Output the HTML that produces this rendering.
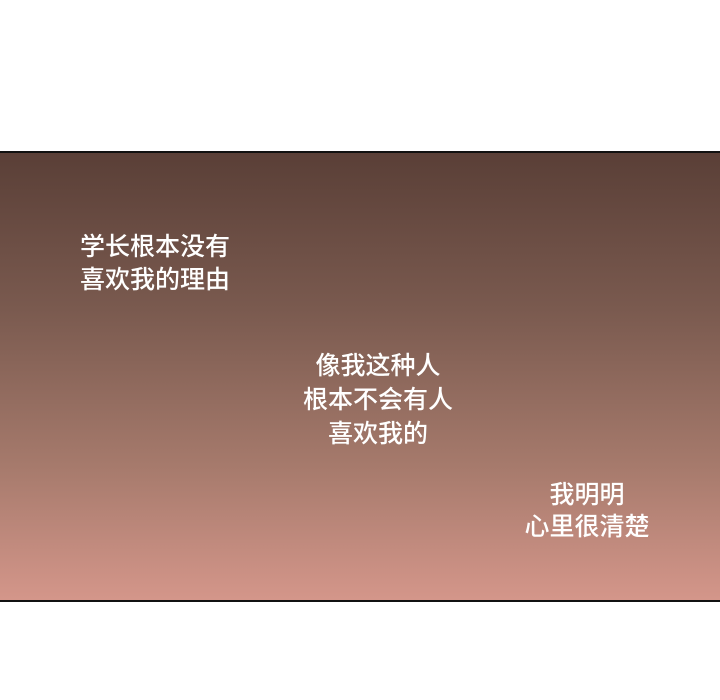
<!DOCTYPE html>
<html><head><meta charset="utf-8"><style>
html,body{margin:0;padding:0;}
body{width:720px;height:700px;background:#fff;position:relative;overflow:hidden;font-family:"Liberation Sans","Noto Sans CJK SC",sans-serif;}
#panel{position:absolute;left:0;top:151px;width:720px;height:447px;border-top:2px solid #111;border-bottom:2px solid #111;background:linear-gradient(to bottom,#5a3f37 0%,#7a5a4f 35%,#a67a6c 70%,#d4968a 100%);}
.cap{position:absolute;color:#fff;font-size:25px;font-weight:500;line-height:33px;text-align:center;white-space:nowrap;transform:translateX(-50%);}
</style></head><body>
<div id="panel">
<div class="cap" style="left:155px;top:78px;">学长根本没有<br>喜欢我的理由</div>
<div class="cap" style="left:378px;top:196px;line-height:34px;">像我这种人<br>根本不会有人<br>喜欢我的</div>
<div class="cap" style="left:587px;top:326px;line-height:32px;">我明明<br>心里很清楚</div>
</div>
</body></html>
